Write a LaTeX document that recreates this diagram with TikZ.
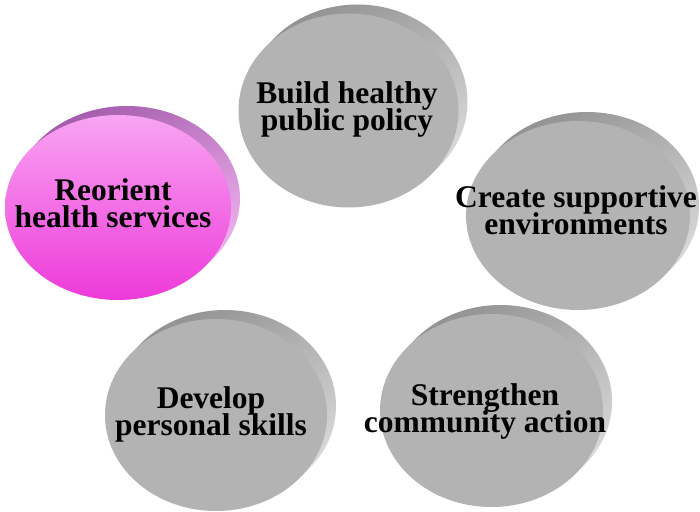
\documentclass[tikz,border=0pt]{standalone}
\usepackage{fontspec}
\setmainfont{Liberation Serif}
\usetikzlibrary{shapes.geometric}
\definecolor{faceG}{HTML}{B3B3B3}
\definecolor{rimD}{HTML}{939393}
\definecolor{rimL}{HTML}{DCDCDC}
\definecolor{pinkT}{HTML}{F8A4F3}
\definecolor{pinkB}{HTML}{EE3AD9}
\definecolor{pinkRimD}{HTML}{A45CAC}
\definecolor{pinkRimL}{HTML}{F2B4F0}
\newcommand\twol[2]{\vtop{\baselineskip=27pt\lineskiplimit=-100pt\halign{\hfil##\hfil\cr#1\cr#2\cr}}}
\begin{document}
\begin{tikzpicture}[x=1pt,y=-1pt,
  disc/.style={ellipse, inner sep=0pt, outer sep=0pt, draw=none},
  face/.style={disc, fill=faceG},
  rim/.style={disc, top color=rimD, bottom color=rimL, shading angle=30},
  pface/.style={disc, top color=pinkT, bottom color=pinkB},
  prim/.style={disc, top color=pinkRimD, bottom color=pinkRimL, shading angle=30},
  lbl/.style={anchor=base, inner sep=0pt, font=\bfseries\fontsize{31.5}{27}\selectfont}]
\useasboundingbox (0,0) rectangle (700,511);
\fill[white] (0,0) rectangle (700,511);
% Build healthy public policy
\node[rim, minimum width=220pt, minimum height=194pt] (buildrim) at (357.5,101.5) {};
\node[face, minimum width=220pt, minimum height=194pt] (build) at (348.5,110.5) {};
% Create supportive environments
\node[rim, minimum width=224pt, minimum height=189pt] (createrim) at (587,206.5) {};
\node[face, minimum width=224pt, minimum height=189pt] (create) at (578,215.5) {};
% Strengthen community action
\node[rim, minimum width=223pt, minimum height=193pt] (strengthrim) at (500.5,401.5) {};
\node[face, minimum width=223pt, minimum height=193pt] (strength) at (491.5,410.5) {};
% Develop personal skills
\node[rim, minimum width=222pt, minimum height=192pt] (developrim) at (225,406) {};
\node[face, minimum width=222pt, minimum height=192pt] (develop) at (216,415) {};
% Reorient health services
\node[prim, minimum width=226pt, minimum height=185pt] (reorientrim) at (127,198.5) {};
\node[pface, minimum width=226pt, minimum height=185pt] (reorient) at (118,207.5) {};
% labels
\node[lbl] (tbuild) at (347,103) {\twol{Build healthy}{public policy}};
\node[lbl] (tcreate) at (576,207) {\twol{Create supportive}{environments}};
\node[lbl] (tstrength) at (485,405) {\twol{Strengthen}{community action}};
\node[lbl] (tdevelop) at (211,408) {\twol{Develop}{personal skills}};
\node[lbl] (treorient) at (113,200) {\twol{Reorient}{health services}};
\end{tikzpicture}
\end{document}
